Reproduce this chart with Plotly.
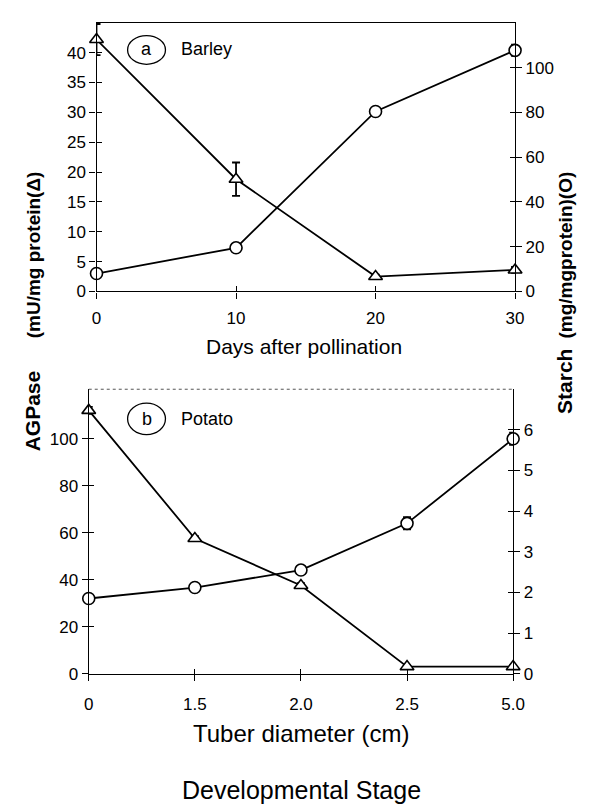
import plotly.graph_objects as go

# ---------------- data ----------------
barley_days = [0, 10, 20, 30]
barley_agpase = [42.2, 18.8, 2.5, 3.6]
barley_agpase_err = [2.6, 2.8, 0.3, 0.5]
barley_starch = [8.0, 19.5, 80.4, 107.7]
barley_starch_err = [0.5, 0.5, 1.0, 2.5]

potato_diam = ["0", "1.5", "2.0", "2.5", "5.0"]
potato_agpase = [112.0, 57.5, 37.5, 3.0, 3.0]
potato_agpase_err = [1.5, 1.0, 1.0, 0.5, 0.5]
potato_starch = [1.85, 2.12, 2.55, 3.7, 5.78]
potato_starch_err = [0.05, 0.06, 0.05, 0.15, 0.15]

top_left_ticks = [0, 5, 10, 15, 20, 25, 30, 35, 40]
top_right_ticks = [0, 20, 40, 60, 80, 100]
bot_left_ticks = [0, 20, 40, 60, 80, 100]
bot_right_ticks = [0, 1, 2, 3, 4, 5, 6]

W, H = 589, 810
FONT = "Liberation Sans, Arial, sans-serif"


def px(x):
    return x / W


def py(y):
    return 1 - y / H


line = dict(color="black", width=1.8)
circ = dict(symbol="circle", size=12, color="white", line=dict(color="black", width=1.6))
tri = dict(symbol="triangle-up", size=12, color="white", line=dict(color="black", width=1.6))


def err(arr):
    return dict(type="data", array=arr, visible=True, color="black", thickness=1.8, width=4)


fig = go.Figure()

fig.add_trace(go.Scatter(x=barley_days, y=barley_agpase, mode="lines+markers",
                         line=line, marker=tri, error_y=err(barley_agpase_err),
                         xaxis="x", yaxis="y", cliponaxis=False, showlegend=False))
fig.add_trace(go.Scatter(x=barley_days, y=barley_starch, mode="lines+markers",
                         line=line, marker=circ, error_y=err(barley_starch_err),
                         xaxis="x", yaxis="y2", cliponaxis=False, showlegend=False))
fig.add_trace(go.Scatter(x=potato_diam, y=potato_agpase, mode="lines+markers",
                         line=line, marker=tri, error_y=err(potato_agpase_err),
                         xaxis="x2", yaxis="y3", cliponaxis=False, showlegend=False))
fig.add_trace(go.Scatter(x=potato_diam, y=potato_starch, mode="lines+markers",
                         line=line, marker=circ, error_y=err(potato_starch_err),
                         xaxis="x2", yaxis="y4", cliponaxis=False, showlegend=False))

# invisible helper traces so the inner-tick overlay axes get drawn
ghost = dict(mode="markers", marker=dict(opacity=0), hoverinfo="skip", showlegend=False)
fig.add_trace(go.Scatter(x=barley_days, y=barley_agpase, xaxis="x3", yaxis="y5", **ghost))
fig.add_trace(go.Scatter(x=barley_days, y=barley_starch, xaxis="x3", yaxis="y6", **ghost))
fig.add_trace(go.Scatter(x=potato_diam, y=potato_agpase, xaxis="x4", yaxis="y7", **ghost))
fig.add_trace(go.Scatter(x=potato_diam, y=potato_starch, xaxis="x4", yaxis="y8", **ghost))

tickfont = dict(family=FONT, size=17, color="black")
axcommon = dict(showgrid=False, zeroline=False, showline=True, linecolor="black",
                linewidth=1.2, ticks="outside", ticklen=6, tickwidth=1.2, tickcolor="black",
                tickfont=tickfont)
inner = dict(showgrid=False, zeroline=False, showline=False, ticks="inside", ticklen=5,
             tickwidth=1.2, tickcolor="black", showticklabels=False)

top_dom_x = [px(86), px(517)]
top_dom_y = [py(287), py(15)]
bot_dom_x = [px(78), px(515)]
bot_dom_y = [py(674), py(386)]

fig.update_layout(
    width=W, height=H,
    margin=dict(l=0, r=0, t=0, b=0),
    paper_bgcolor="white", plot_bgcolor="white",
    font=dict(family=FONT, color="black"),
    xaxis=dict(domain=top_dom_x, anchor="y", range=[0, 30], tickvals=barley_days,
               mirror=True, ticklabelstandoff=5, **axcommon),
    yaxis=dict(domain=top_dom_y, anchor="x", range=[0, 45], tickvals=top_left_ticks, **axcommon),
    yaxis2=dict(domain=top_dom_y, anchor="x", overlaying="y", side="right",
                range=[0, 120], tickvals=top_right_ticks, **axcommon),
    xaxis2=dict(domain=bot_dom_x, anchor="y3", type="category", range=[0, 4],
                ticklabelstandoff=9, **axcommon),
    yaxis3=dict(domain=bot_dom_y, anchor="x2", range=[0, 121], tickvals=bot_left_ticks, **axcommon),
    yaxis4=dict(domain=bot_dom_y, anchor="x2", overlaying="y3", side="right",
                range=[0, 7], tickvals=bot_right_ticks, **axcommon),
    # overlay axes giving the inside half of the crossing ticks
    xaxis3=dict(domain=top_dom_x, anchor="y5", overlaying="x", range=[0, 30],
                tickvals=barley_days, **inner),
    yaxis5=dict(domain=top_dom_y, anchor="x3", overlaying="y", range=[0, 45],
                tickvals=top_left_ticks, **inner),
    yaxis6=dict(domain=top_dom_y, anchor="x3", overlaying="y", side="right", range=[0, 120],
                tickvals=top_right_ticks, **inner),
    xaxis4=dict(domain=bot_dom_x, anchor="y7", overlaying="x2", type="category", range=[0, 4],
                **inner),
    yaxis7=dict(domain=bot_dom_y, anchor="x4", overlaying="y3", range=[0, 121],
                tickvals=bot_left_ticks, **inner),
    yaxis8=dict(domain=bot_dom_y, anchor="x4", overlaying="y3", side="right", range=[0, 7],
                tickvals=bot_right_ticks, **inner),
)

# dotted top border of bottom panel
fig.add_shape(type="line", xref="x2 domain", yref="y3 domain", x0=0, x1=1, y0=1, y1=1,
              line=dict(color="#555555", width=1, dash="dot"))

# panel labels (ellipses + text)
fig.add_shape(type="circle", xref="paper", yref="paper",
              x0=px(118), x1=px(157), y0=py(57), y1=py(28),
              line=dict(color="black", width=1.3))
fig.add_shape(type="circle", xref="paper", yref="paper",
              x0=px(118), x1=px(157), y0=py(432), y1=py(400),
              line=dict(color="black", width=1.3))

ann = []


def text(x, y, s, size, angle=0, bold=False, xanchor="center"):
    ann.append(dict(x=px(x), y=py(y), xref="paper", yref="paper", text=(f"<b>{s}</b>" if bold else s),
                    showarrow=False, textangle=angle, xanchor=xanchor, yanchor="middle",
                    font=dict(family=FONT, size=size, color="black")))


text(137.5, 42, "a", 18)
text(171, 42, "Barley", 18, xanchor="left")
text(137.5, 416, "b", 18)
text(171, 416, "Potato", 18, xanchor="left")

text(300, 343, "Days after pollination", 21)
text(297, 735, "Tuber diameter (cm)", 24)
text(297, 792, "Developmental Stage", 25)

text(22, 250, "(mU/mg protein(Δ)", 19, angle=-90, bold=True)
text(569, 250, "(mg/mgprotein)(O)", 19, angle=-90, bold=True)
text(21, 408, "AGPase", 21, angle=-90, bold=True)
text(568, 378, "Starch", 21, angle=-90, bold=True)

fig.update_layout(annotations=ann)

fig.write_html("out.html")
